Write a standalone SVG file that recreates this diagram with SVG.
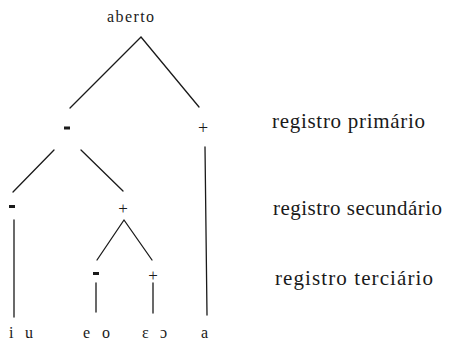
<svg xmlns="http://www.w3.org/2000/svg" width="449" height="343" viewBox="0 0 449 343">
<defs>
<style>
.t{fill:#1a1a1a}
.edge{stroke:#1a1a1a;stroke-width:1.3;fill:none;stroke-linecap:round}
</style>
</defs>
<rect width="449" height="343" fill="#fff"/>
<g id="connectors">
<path class="edge" d="M141 37 L70 108 M141 37 L199 107"/>
<path class="edge" d="M54 150 L13 192 M81 150 L123 191"/>
<path class="edge" d="M205 147 L207 315"/>
<path class="edge" d="M14 220 L14 317"/>
<path class="edge" d="M124 220 L97 260 M124 220 L152 260"/>
<path class="edge" d="M96 283 L96 312 M153 283 L153 313"/>
</g>
<g font-family="Liberation Serif, serif" class="t">
<g id="n-aberto"><text x="107" y="22" font-size="16" textLength="47" lengthAdjust="spacing">aberto</text></g>
<g id="n-minus1"><rect x="64" y="126.5" width="6" height="3"/></g>
<g id="n-plus1"><text x="203" y="134" font-size="18" text-anchor="middle">+</text></g>
<g id="n-minus2"><rect x="9" y="205" width="6" height="3"/></g>
<g id="n-plus2"><text x="123" y="214" font-size="17" text-anchor="middle">+</text></g>
<g id="n-minus3"><rect x="93" y="272" width="6" height="3"/></g>
<g id="n-plus3"><text x="153" y="281" font-size="17" text-anchor="middle">+</text></g>
<g id="n-iu"><text x="9" y="338" font-size="16" textLength="24" lengthAdjust="spacing">i u</text></g>
<g id="n-eo"><text x="83" y="338" font-size="16" textLength="27" lengthAdjust="spacing">e o</text></g>
<g id="n-eps"><text x="142" y="338" font-size="16" textLength="25" lengthAdjust="spacing">ε ɔ</text></g>
<g id="n-a"><text x="201" y="338" font-size="16">a</text></g>
<g id="l-primario"><text x="272" y="128" font-size="21" textLength="153" lengthAdjust="spacing">registro primário</text></g>
<g id="l-secundario"><text x="273" y="215" font-size="21" textLength="169" lengthAdjust="spacing">registro secundário</text></g>
<g id="l-terciario"><text x="275" y="285" font-size="21" textLength="158" lengthAdjust="spacing">registro terciário</text></g>
</g>
</svg>
